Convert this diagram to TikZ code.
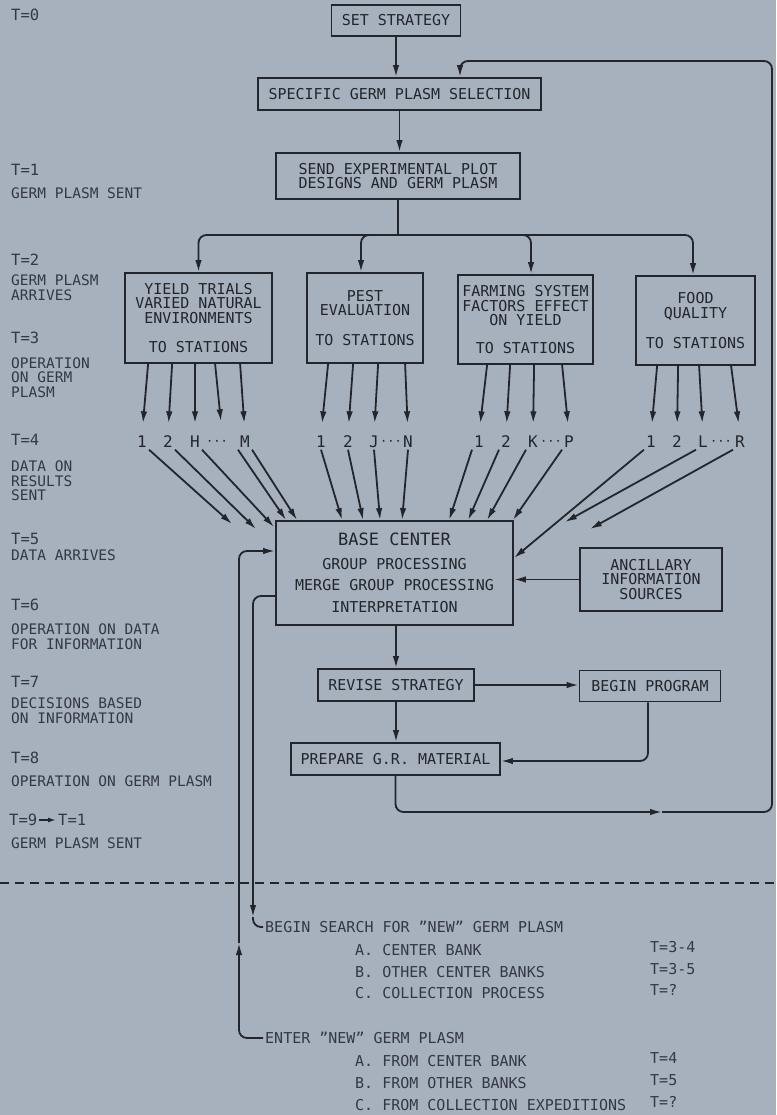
\documentclass[tikz,border=0pt]{standalone}
\usepackage{fontspec}
\setmainfont{DejaVu Sans Mono}
\usetikzlibrary{arrows.meta,calc}
\definecolor{bg}{RGB}{167,177,190}
\definecolor{ink}{RGB}{34,37,44}
\definecolor{inkl}{RGB}{52,56,66}
\newcommand\fsz[2]{\fontsize{#1}{#2}\selectfont}
\begin{document}
\begin{tikzpicture}[x=1pt,y=-1pt,
  box/.style={draw=ink,line width=1.8pt,text=ink,inner sep=0pt,align=center,font=\fsz{15}{14.5}},
  arr/.style={draw=ink,line width=1.8pt,rounded corners=8pt,-{Latex[length=12pt,width=6.5pt]}},
  ln/.style={draw=ink,line width=1.8pt,rounded corners=8pt},
  stat/.style={text=ink,font=\fsz{16}{16},inner sep=2pt,text height=11pt,text depth=0pt},
  dots/.style={text=ink,font=\fsz{12}{12},inner sep=2pt,text height=11pt,text depth=0pt},
  lab/.style={anchor=west,inner sep=0pt,text=inkl,align=left,font=\fsz{14.5}{14.5}},
  tl/.style={anchor=west,inner sep=0pt,text=inkl,font=\fsz{15.5}{15.5}},
  bt/.style={anchor=west,inner xsep=2pt,inner ysep=0pt,text=inkl,font=\fsz{15}{15},text height=11pt,text depth=0pt},
]
\fill[bg] (0,0) rectangle (776,1115);
\useasboundingbox (0,0) rectangle (776,1115);

% ---- boxes
\node[box,minimum width=129pt,minimum height=31pt] (set) at (396,20.5) {SET STRATEGY};
\node[box,minimum width=283pt,minimum height=32pt] (spec) at (399.5,94) {SPECIFIC GERM PLASM SELECTION};
\node[box,minimum width=244pt,minimum height=46pt] (send) at (398,176) {SEND EXPERIMENTAL PLOT\\DESIGNS AND GERM PLASM};
\node[box,minimum width=147pt,minimum height=90pt] (yield) at (198.5,318) {YIELD TRIALS\\VARIED NATURAL\\ENVIRONMENTS\\[14.5pt]TO STATIONS};
\node[box,minimum width=116pt,minimum height=90pt] (pest) at (365,318) {PEST\\EVALUATION\\[15.5pt]TO STATIONS};
\node[box,minimum width=135pt,minimum height=89pt] (farm) at (525.5,319.5) {FARMING SYSTEM\\FACTORS EFFECT\\ON YIELD\\[13pt]TO STATIONS};
\node[box,minimum width=119pt,minimum height=89pt] (food) at (695.5,320.5) {FOOD\\QUALITY\\[15.5pt]TO STATIONS};
\node[box,minimum width=237pt,minimum height=104pt] (base) at (394.5,573) {{\fsz{17}{17}BASE CENTER}\\[9pt]GROUP PROCESSING\\[7pt]MERGE GROUP PROCESSING\\[7pt]INTERPRETATION};
\node[box,minimum width=142pt,minimum height=63pt] (anc) at (651,579.5) {ANCILLARY\\INFORMATION\\SOURCES};
\node[box,minimum width=156pt,minimum height=32pt] (rev) at (396,685) {REVISE STRATEGY};
\node[box,minimum width=141pt,minimum height=31pt] (begin) at (650,686) {BEGIN PROGRAM};
\node[box,minimum width=209pt,minimum height=32pt] (prep) at (395.5,759) {PREPARE G.R. MATERIAL};

% ---- station labels
\node[stat] (y1) at (142,442) {1};
\node[stat] (y2) at (168,442) {2};
\node[stat] (yH) at (195,442) {H};
\node[dots] (yd) at (217,440) {···};
\node[stat] (yM) at (245,442) {M};
\node[stat] (p1) at (321,442) {1};
\node[stat] (p2) at (348,442) {2};
\node[stat] (pJ) at (374,442) {J};
\node[dots] (pd) at (391,440) {···};
\node[stat] (pN) at (408,442) {N};
\node[stat] (f1) at (479,442) {1};
\node[stat] (f2) at (506,442) {2};
\node[stat] (fK) at (533,442) {K};
\node[dots] (fd) at (551,440) {···};
\node[stat] (fP) at (569,442) {P};
\node[stat] (q1) at (651,442) {1};
\node[stat] (q2) at (677,442) {2};
\node[stat] (qL) at (703,442) {L};
\node[dots] (qd) at (721,440) {···};
\node[stat] (qR) at (740,442) {R};

% ---- left time labels
\node[tl] (t0) at (11,15) {T=0};
\node[tl] (t1) at (11,170) {T=1};
\node[lab] (l1) at (11,193) {GERM PLASM SENT};
\node[tl] (t2) at (11,260) {T=2};
\node[lab] (l2) at (11,287.5) {GERM PLASM\\ARRIVES};
\node[tl] (t3) at (11,338) {T=3};
\node[lab] (l3) at (11,377.5) {OPERATION\\ON GERM\\PLASM};
\node[tl] (t4) at (11,440) {T=4};
\node[lab] (l4) at (11,481) {DATA ON\\RESULTS\\SENT};
\node[tl] (t5) at (11,539) {T=5};
\node[lab] (l5) at (11,555) {DATA ARRIVES};
\node[tl] (t6) at (11,605) {T=6};
\node[lab] (l6) at (11,636.5) {OPERATION ON DATA\\FOR INFORMATION};
\node[tl] (t7) at (11,682) {T=7};
\node[lab] (l7) at (11,710.5) {DECISIONS BASED\\ON INFORMATION};
\node[tl] (t8) at (11,758) {T=8};
\node[lab] (l8) at (11,781) {OPERATION ON GERM PLASM};
\node[tl] (t9) at (9,820) {T=9};
\node[tl] (t9b) at (58,820) {T=1};
\node[lab] (l9) at (11,843) {GERM PLASM SENT};
\draw[draw=ink,line width=1.5pt,-{Latex[length=8pt,width=5pt]},shorten <=2pt,shorten >=2pt] (t9.east) -- (t9b.west);

% ---- bottom texts
\node[bt] (bs) at (263,927) {BEGIN SEARCH FOR "NEW" GERM PLASM};
\node[bt] (ba) at (353,950) {A. CENTER BANK};
\node[bt] (bb) at (353,972) {B. OTHER CENTER BANKS};
\node[bt] (bc) at (353,993) {C. COLLECTION PROCESS};
\node[bt] (ta) at (648,947) {T=3-4};
\node[bt] (tb) at (648,969) {T=3-5};
\node[bt] (tc) at (648,990) {T=?};
\node[bt] (en) at (263,1038) {ENTER "NEW" GERM PLASM};
\node[bt] (ea) at (353,1061) {A. FROM CENTER BANK};
\node[bt] (eb) at (353,1083) {B. FROM OTHER BANKS};
\node[bt] (ec) at (353,1105) {C. FROM COLLECTION EXPEDITIONS};
\node[bt] (td) at (648,1058) {T=4};
\node[bt] (te) at (648,1080) {T=5};
\node[bt] (tf) at (648,1102) {T=?};

% ---- main flow
\draw[arr] (set.south) -- (set.south |- spec.north);
\draw[arr] (spec.south) -- (spec.south |- send.north);
\coordinate (br) at (398,235);
\draw[ln] (send.south) -- (br);
\draw[arr] (br) -| (yield.north);
\draw[arr] (br) -| ([xshift=-4pt]pest.north);
\draw[arr] (br) -| ([xshift=5.5pt]farm.north);
\draw[arr] (br) -| ([xshift=-2.5pt]food.north);

% ---- to stations
\begin{scope}[every path/.style={arr,shorten >=11pt}]
\draw ([xshift=24pt]yield.south west) -- (y1.north);
\draw ([xshift=48pt]yield.south west) -- (y2.north);
\draw ([xshift=71pt]yield.south west) -- (yH.north);
\draw ([xshift=91pt]yield.south west) -- ([xshift=5pt]yd.north);
\draw ([xshift=116pt]yield.south west) -- (yM.north);
\draw ([xshift=22pt]pest.south west) -- (p1.north);
\draw ([xshift=47pt]pest.south west) -- (p2.north);
\draw ([xshift=72pt]pest.south west) -- (pJ.north);
\draw ([xshift=99pt]pest.south west) -- (pN.north);
\draw ([xshift=30pt]farm.south west) -- (f1.north);
\draw ([xshift=53pt]farm.south west) -- (f2.north);
\draw ([xshift=77pt]farm.south west) -- (fK.north);
\draw ([xshift=105pt]farm.south west) -- (fP.north);
\draw ([xshift=22pt]food.south west) -- (q1.north);
\draw ([xshift=43pt]food.south west) -- (q2.north);
\draw ([xshift=64pt]food.south west) -- (qL.north);
\draw ([xshift=96pt]food.south west) -- (qR.north);
\end{scope}

% ---- results to base center
\draw[arr] (y1.south east) -- ([xshift=-43pt,yshift=-4pt]base.north west);
\draw[arr] (y2.south east) -- ([xshift=-19pt,yshift=-9pt]base.north west);
\draw[arr] (yH.south east) -- ([xshift=-1pt,yshift=-7pt]base.north west);
\draw[arr] (yM.south west) -- ([xshift=11pt]base.north west);
\draw[arr] (yM.south east) -- ([xshift=22pt]base.north west);
\draw[arr] (p1.south) -- ([xshift=67pt]base.north west);
\draw[arr] (p2.south) -- ([xshift=88pt]base.north west);
\draw[arr] (pJ.south) -- ([xshift=105pt]base.north west);
\draw[arr] (pN.south) -- ([xshift=127pt]base.north west);
\draw[arr] (f1.south west) -- ([xshift=174pt]base.north west);
\draw[arr] (f2.south west) -- ([xshift=193pt]base.north west);
\draw[arr] (fK.south west) -- ([xshift=212pt]base.north west);
\draw[arr] (fP.south west) -- ([xshift=-1pt]base.north east);
\draw[arr] (q1.south west) -- ([yshift=15pt]base.east);
\draw[arr] (qL.south west) -- ([xshift=51pt,yshift=-2pt]base.north east);
\draw[arr] (qR.south west) -- ([xshift=76pt,yshift=-9pt]base.north east);

% ---- lower flow
\draw[arr] (anc.west) -- (anc.west -| base.east);
\draw[arr] (rev.north |- base.south) -- (rev.north);
\draw[arr] (rev.south) -- (rev.south |- prep.north);
\draw[arr] (rev.east) -- (rev.east -| begin.west);
\draw[arr] ([xshift=-2pt]begin.south) |- ([yshift=-2pt]prep.east);

% ---- feedback loop to selection
\coordinate (fbM) at (662,812);
\coordinate (fbR) at (772,812);
\coordinate (fbT) at (772,61);
\draw[arr] (prep.south) |- (fbM);
\draw[arr] (fbM) -- (fbR) -- (fbT) -| ([xshift=60.5pt]spec.north);

% ---- separator
\draw[draw=ink,line width=1.5pt,dash pattern=on 9pt off 6pt] (0,883) -- (776,883);

% ---- new germ plasm loops
\coordinate (oup) at (239,943);
\draw[arr] (en.west) -| (oup);
\draw[arr] (oup) |- ([yshift=22pt]base.west);
\coordinate (idn) at (253,917);
\draw[arr] ([yshift=-23pt]base.west) -| (idn);
\draw[ln] (idn) |- (bs.west);
\end{tikzpicture}
\end{document}
